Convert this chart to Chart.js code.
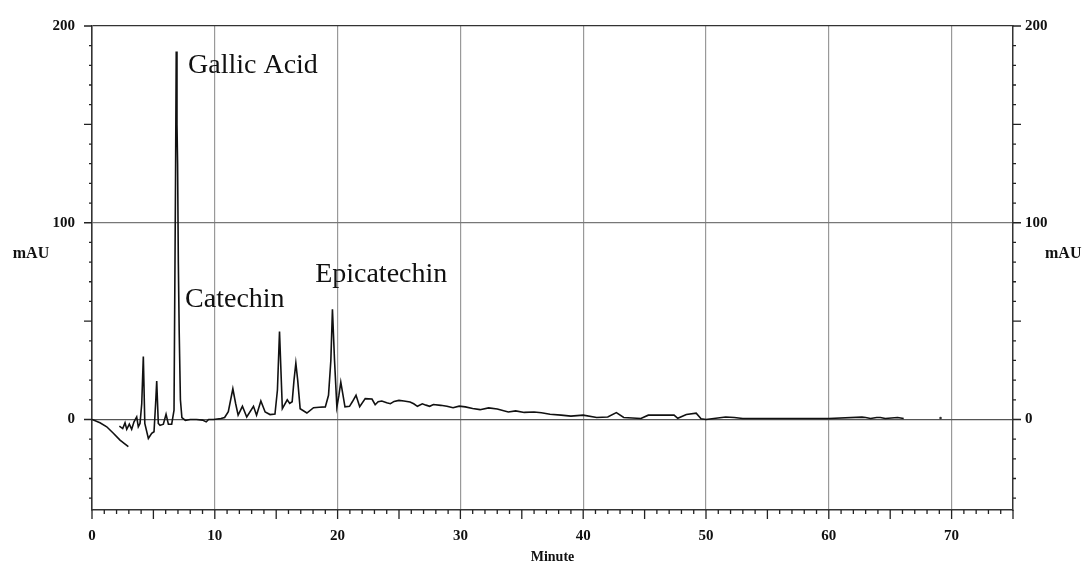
<!DOCTYPE html>
<html>
<head>
<meta charset="utf-8">
<script src="https://cdn.jsdelivr.net/npm/chart.js@4"></script>
<style>
    body { margin: 0; background: #fff; }
    #wrap { width: 1091px; height: 566px; }
</style>
</head>
<body>
<div id="wrap"><canvas id="chroma"></canvas></div>
<script>
// retention time (min) and absorbance (mAU)
const driftTime = [0, 0.65, 1.2, 1.74, 2.28, 2.96]
const driftAbs = [0, -1.7, -3.7, -7, -10.5, -13.8]

const traceTime = [
    2.23, 2.5, 2.69, 2.83, 3.04, 3.23, 3.42, 3.64, 3.77, 3.91,
    4.05, 4.18, 4.3, 4.59, 4.86, 5.05, 5.18, 5.27, 5.4, 5.54,
    5.81, 6.03, 6.22, 6.49, 6.68, 6.8, 6.86, 6.92, 6.97, 7.03,
    7.1, 7.2, 7.32, 7.6, 8.0, 8.5, 9.0, 9.3, 9.5, 9.9,
    10.5, 10.8, 11.1, 11.47, 11.7, 11.9, 12.25, 12.6, 13.15, 13.4,
    13.75, 14.1, 14.5, 14.9, 15.1, 15.27, 15.5, 15.9, 16.1, 16.3,
    16.45, 16.6, 16.75, 16.95, 17.5, 18.04, 18.5, 19.0, 19.26, 19.45,
    19.58, 19.75, 19.94, 20.1, 20.26, 20.45, 20.6, 20.97, 21.2, 21.5,
    21.8, 22.25, 22.8, 23.06, 23.3, 23.6, 24.0, 24.3, 24.6, 25.0,
    25.4, 25.9, 26.2, 26.5, 26.9, 27.2, 27.5, 27.8, 28.4, 28.9,
    29.4, 29.9, 30.4, 31.0, 31.6, 32.3, 33.0, 33.9, 34.5, 35.2,
    36.0, 36.6, 37.3, 38.2, 39.0, 40.0, 41.1, 42.0, 42.7, 43.3,
    44.7, 45.3, 46.0, 46.8, 47.4, 47.7, 48.4, 49.2, 49.6, 50.0,
    51.6, 52.3, 53.0, 60.0, 62.7, 63.0, 63.4, 63.9, 64.2, 64.6,
    65.6, 66.1
]
const traceAbs = [
    -3.4, -4.6, -1.7, -5, -2.4, -5, -1.2, 1.3, -3.7, -2,
    8, 32, -2, -9.6, -7, -6.2, 8, 19.5, -2, -3,
    -2.4, 2.7, -2.4, -2.4, 4.7, 120, 187, 150, 130, 80,
    45, 10, 1, -0.5, 0, 0, -0.3, -1.2, 0, 0,
    0.5, 1, 4, 15.6, 8, 2.2, 6.7, 1.3, 6.7, 2.2,
    9.4, 3.8, 2.5, 2.8, 15, 44.7, 5.5, 10, 8.2, 9,
    20, 28.6, 20, 5.5, 3.3, 6, 6.2, 6.4, 12.3, 30,
    56, 30, 6.4, 12, 19, 12, 6.4, 6.7, 9, 12.3,
    6.5, 10.6, 10.4, 7.5, 9.0, 9.4, 8.5, 8, 9.2, 9.7,
    9.4, 8.9, 8.0, 6.7, 8, 7.3, 6.7, 7.6, 7.2, 6.7,
    6, 6.8, 6.4, 5.6, 5, 5.9, 5.3, 3.8, 4.4, 3.6,
    3.8, 3.4, 2.7, 2.2, 1.7, 2.2, 1, 1.3, 3.5, 1,
    0.5, 2.2, 2.2, 2.2, 2.2, 0.6, 2.5, 3.2, 0.4, 0,
    1.3, 1, 0.5, 0.5, 1.2, 1, 0.5, 1, 1, 0.5,
    1, 0.5
]

const strayTime = [69.1]
const strayAbs = [0.7]

const xTicks = [0, 10, 20, 30, 40, 50, 60, 70]
const yTicks = [0, 100, 200]

// peak names, anchored in data units (left edge, baseline)
const peakNames = ['Gallic Acid', 'Catechin', 'Epicatechin']
const peakNameTime = [7.82, 7.58, 18.17]
const peakNameAbs = [176, 57.2, 70]

const serif = "'Liberation Serif', 'Times New Roman', serif"

function toPoints(xs, ys) {
    return xs.map((t, i) => ({ x: t, y: ys[i] }))
}

// minor/major tick marks on all three axes
const tickMarks = {
    id: 'tickMarks',
    afterDraw(chart) {
        const { ctx, chartArea: a, scales: { x, y } } = chart
        ctx.save()
        ctx.strokeStyle = '#222'
        ctx.lineWidth = 1.3
        ctx.beginPath()
        for (let v = 0; v <= 75; v++) {
            const px = x.getPixelForValue(v)
            const len = v % 5 === 0 ? 9 : 4
            ctx.moveTo(px, a.bottom)
            ctx.lineTo(px, a.bottom + len)
        }
        for (let v = -40; v <= 200; v += 10) {
            const py = y.getPixelForValue(v)
            const len = v % 50 === 0 ? 8 : 3
            ctx.moveTo(a.left - len, py)
            ctx.lineTo(a.left, py)
            ctx.moveTo(a.right, py)
            ctx.lineTo(a.right + len, py)
        }
        ctx.stroke()
        ctx.restore()
    }
}

// peak names and the horizontal "mAU" labels
const labels = {
    id: 'labels',
    afterDraw(chart) {
        const { ctx, chartArea: a, scales: { x, y } } = chart
        ctx.save()
        ctx.fillStyle = '#111'
        ctx.textBaseline = 'alphabetic'
        ctx.textAlign = 'left'
        ctx.font = '28px ' + serif
        for (let i = 0; i < peakNames.length; i++) {
            ctx.fillText(peakNames[i], x.getPixelForValue(peakNameTime[i]), y.getPixelForValue(peakNameAbs[i]))
        }
        ctx.font = 'bold 16px ' + serif
        ctx.textBaseline = 'middle'
        const py = y.getPixelForValue(84)
        ctx.textAlign = 'center'
        ctx.fillText('mAU', a.left - 61, py)
        ctx.textAlign = 'left'
        ctx.fillText('mAU', a.right + 32, py)
        ctx.restore()
    }
}

const yGridColor = (c) => {
    if (c.tick.value === 200) return '#333'
    if (c.tick.value === 0) return '#555'
    return '#777'
}

const chroma = new Chart(document.getElementById('chroma'), {
    type: 'scatter',
    data: {
        datasets: [{
            data: toPoints(driftTime, driftAbs),
            showLine: true,
            borderColor: '#111',
            borderWidth: 1.6,
            pointRadius: 0
        }, {
            data: toPoints(traceTime, traceAbs),
            showLine: true,
            borderColor: '#111',
            borderWidth: 1.6,
            pointRadius: 0
        }, {
            data: toPoints(strayTime, strayAbs),
            showLine: false,
            backgroundColor: '#333',
            borderWidth: 0,
            pointRadius: 1.3
        }]
    },
    options: {
        responsive: true,
        maintainAspectRatio: false,
        animation: false,
        layout: { padding: { top: 23, left: 0, right: 0, bottom: 0 } },
        plugins: {
            legend: { display: false },
            tooltip: { enabled: false }
        },
        scales: {
            x: {
                type: 'linear',
                min: 0,
                max: 75,
                afterBuildTicks: (s) => { s.ticks = xTicks.map(v => ({ value: v })) },
                afterFit: (s) => { s.height = 56 },
                grid: {
                    color: (c) => c.tick.value === 0 ? '#333' : '#999',
                    lineWidth: 1.2,
                    drawTicks: false
                },
                border: { color: '#333', width: 1.5 },
                ticks: {
                    padding: 17,
                    color: '#111',
                    font: { family: serif, size: 15, weight: 'bold' }
                },
                title: {
                    display: true,
                    text: 'Minute',
                    color: '#111',
                    padding: 0,
                    font: { family: serif, size: 14, weight: 'bold' }
                }
            },
            y: {
                type: 'linear',
                position: 'left',
                min: -46,
                max: 200,
                afterBuildTicks: (s) => { s.ticks = yTicks.map(v => ({ value: v })) },
                afterFit: (s) => { s.width = 92 },
                grid: { color: yGridColor, lineWidth: 1.2, drawTicks: false },
                border: { color: '#333', width: 1.5 },
                ticks: {
                    padding: 17,
                    color: '#111',
                    font: { family: serif, size: 15, weight: 'bold' }
                }
            },
            y2: {
                type: 'linear',
                position: 'right',
                min: -46,
                max: 200,
                afterBuildTicks: (s) => { s.ticks = yTicks.map(v => ({ value: v })) },
                afterFit: (s) => { s.width = 78 },
                grid: { display: false, drawTicks: false },
                border: { color: '#333', width: 1.5 },
                ticks: {
                    padding: 12,
                    color: '#111',
                    font: { family: serif, size: 15, weight: 'bold' }
                }
            }
        }
    },
    plugins: [tickMarks, labels]
})
</script>
</body>
</html>
